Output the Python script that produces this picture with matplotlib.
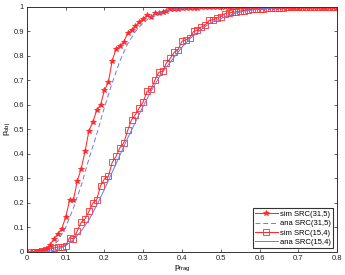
import numpy as np
import matplotlib
matplotlib.use('Agg')
import matplotlib.pyplot as plt

plt.rcParams['font.family'] = ['Liberation Sans', 'DejaVu Sans']
plt.rcParams['mathtext.fontset'] = 'custom'
plt.rcParams['mathtext.rm'] = 'Liberation Sans'
plt.rcParams['mathtext.it'] = 'Liberation Sans'

# simulated points, p_frag = 0.01 ... 0.80
p_sim = np.round(np.arange(1, 81) * 0.01, 2)

sim_31_5 = [0.0, 0.0, 0.002, 0.005, 0.012, 0.03, 0.053, 0.075, 0.095, 0.142,
            0.21, 0.212, 0.29, 0.34, 0.41, 0.495, 0.53, 0.578, 0.60, 0.66,
            0.692, 0.78, 0.83, 0.84, 0.858, 0.893, 0.905, 0.92, 0.94, 0.95,
            0.967, 0.958, 0.973, 0.975, 0.98, 0.985, 0.99, 0.99, 0.993, 0.995,
            0.996, 0.996, 0.997, 0.997, 0.998, 0.998, 0.998, 0.999, 0.999, 0.999,
            0.999, 1.0, 0.999, 1.0, 1.0, 1.0, 1.0, 1.0, 1.0, 1.0,
            1.0, 1.0, 1.0, 1.0, 1.0, 1.0, 1.0, 1.0, 1.0, 1.0,
            1.0, 1.0, 1.0, 1.0, 1.0, 1.0, 1.0, 1.0, 1.0, 1.0]

sim_15_4 = [0.0, 0.0, 0.0, 0.002, 0.008, 0.012, 0.016, 0.02, 0.022, 0.026,
            0.058, 0.053, 0.086, 0.12, 0.135, 0.165, 0.199, 0.213, 0.27, 0.298,
            0.308, 0.365, 0.39, 0.425, 0.445, 0.496, 0.54, 0.56, 0.588, 0.612,
            0.656, 0.663, 0.70, 0.733, 0.737, 0.772, 0.79, 0.815, 0.825, 0.86,
            0.865, 0.875, 0.90, 0.905, 0.918, 0.925, 0.945, 0.948, 0.955, 0.96,
            0.972, 0.975, 0.978, 0.98, 0.983, 0.985, 0.988, 0.99, 0.991, 0.993,
            0.993, 0.995, 0.995, 0.996, 0.997, 0.997, 0.998, 0.998, 0.999, 0.999,
            0.999, 1.0, 0.999, 1.0, 1.0, 1.0, 1.0, 1.0, 1.0, 1.0]

# analytic curves, p_frag = 0.00 ... 0.80 step 0.02
p_ana = np.round(np.arange(0, 41) * 0.02, 2)

ana_31_5 = [0.0, 0.0, 0.003, 0.015, 0.045, 0.10, 0.18, 0.27, 0.38, 0.48,
            0.59, 0.69, 0.78, 0.85, 0.90, 0.935, 0.96, 0.975, 0.985, 0.991,
            0.995, 0.997, 0.998, 0.999, 0.999, 1.0, 1.0, 1.0, 1.0, 1.0,
            1.0, 1.0, 1.0, 1.0, 1.0, 1.0, 1.0, 1.0, 1.0, 1.0, 1.0]

ana_15_4 = [0.0, 0.0, 0.001, 0.004, 0.011, 0.025, 0.05, 0.085, 0.13, 0.19,
            0.255, 0.325, 0.395, 0.465, 0.53, 0.595, 0.655, 0.71, 0.755, 0.795,
            0.835, 0.87, 0.895, 0.92, 0.94, 0.952, 0.965, 0.975, 0.982, 0.987,
            0.991, 0.994, 0.996, 0.997, 0.998, 0.999, 0.999, 1.0, 1.0, 1.0, 1.0]

fig = plt.figure(figsize=(3.45, 2.75), dpi=100)
ax = fig.add_axes([0.078, 0.084, 0.899, 0.891])

red = '#ff2a2a'
blue = '#6878ff'

ax.plot(p_sim, sim_31_5, color=red, lw=0.75, marker='*', ms=4.2,
        mec=red, mfc=red, mew=0.6, label='sim SRC(31,5)')
ax.plot(p_ana, ana_31_5, color=blue, lw=0.7, ls=(0, (5, 3)),
        label='ana SRC(31,5)')
ax.plot(p_sim, sim_15_4, color=red, lw=0.75, marker='s', ms=3.8,
        mec=red, mfc='none', mew=0.6, label='sim SRC(15,4)')
ax.plot(p_ana, ana_15_4, color=blue, lw=0.7, label='ana SRC(15,4)')

ax.set_xlim(0, 0.8)
ax.set_ylim(0, 1)
ax.set_xticks(np.arange(0, 0.81, 0.1))
ax.set_yticks(np.arange(0, 1.01, 0.1))
ax.set_xticklabels(['0', '0.1', '0.2', '0.3', '0.4', '0.5', '0.6', '0.7', '0.8'])
ax.set_yticklabels(['0', '0.1', '0.2', '0.3', '0.4', '0.5', '0.6', '0.7', '0.8', '0.9', '1'])
ax.tick_params(direction='in', top=True, right=True, labelsize=5.5,
               length=2.5, width=0.5, pad=2, colors='#222222')
for s in ax.spines.values():
    s.set_linewidth(0.7)
    s.set_color('#333333')

ax.set_xlabel(r'p$_{\mathrm{frag}}$', fontsize=6, labelpad=1)
ax.set_ylabel(r'p$_{\mathrm{obj}}$', fontsize=6, labelpad=1)

leg = ax.legend(loc='lower right', fontsize=5.5, frameon=True, fancybox=False,
                edgecolor='black', handlelength=3.0, handletextpad=0.3,
                borderpad=0.3, labelspacing=0.25, borderaxespad=0.5)
leg.get_frame().set_linewidth(0.8)

fig.savefig('out.png', dpi=100)
